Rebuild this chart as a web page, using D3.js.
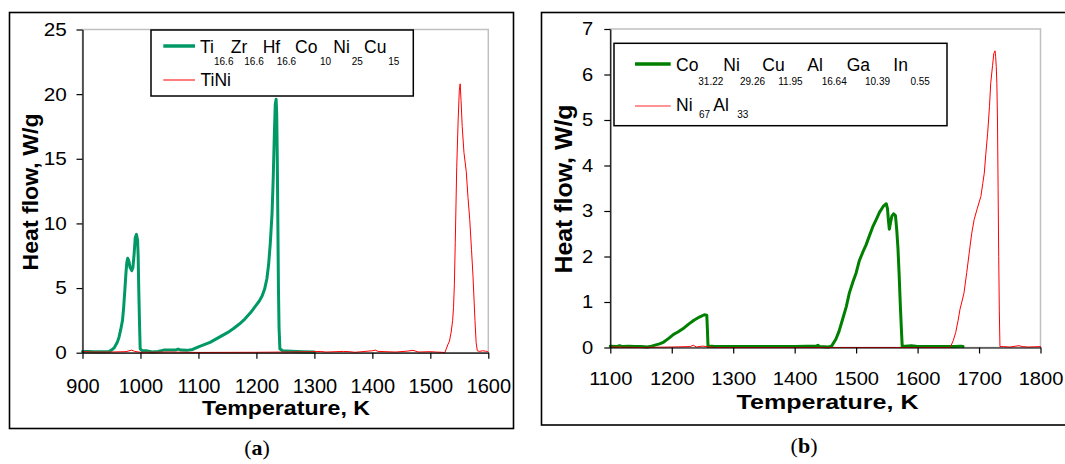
<!DOCTYPE html>
<html><head><meta charset="utf-8">
<script src="https://cdn.jsdelivr.net/npm/d3@7"></script>
<style>
html,body{margin:0;padding:0;background:#fff;}
svg{display:block;}
text{font-family:"Liberation Sans",Arial,sans-serif;fill:#000;}
</style>
</head><body>
<svg id="c" width="1065" height="464"></svg>
<script>
// ---------- Panel (a) data ----------
const tickA_x = [900,1000,1100,1200,1300,1400,1500,1600];
const tickA_y = [0,5,10,15,20,25];
const legendA_elements = ["Ti","Zr","Hf","Co","Ni","Cu"];
const legendA_subs = ["16.6","16.6","16.6","10","25","15"];
const legendA_second = "TiNi";

const tempA_green = [900,910,920,930,940,946,950,955,960,963,966,969,971,973,975,976.5,978,980,982,985,987,989,991,993,995,996,997,998.5,999.5,1003,1010,1020,1030,1040,1050,1060,1065,1070,1080,1090,1100,1110,1120,1130,1140,1150,1160,1170,1180,1190,1200,1205,1210,1214,1218,1221,1224,1227,1229,1231,1232.5,1234,1235,1236,1237,1238,1239,1240.5,1245,1260,1280,1300];
const flowA_green = [0.1,0.1,0.08,0.08,0.08,0.1,0.2,0.4,0.8,1.2,1.8,2.5,3.5,4.8,6.2,7.0,7.3,7.1,6.6,6.35,6.6,7.6,8.9,9.15,8.7,7.5,5,2,0.3,0.15,0.15,0.05,0.1,0.2,0.2,0.2,0.28,0.2,0.18,0.25,0.45,0.62,0.8,1.05,1.3,1.55,1.85,2.2,2.6,3.1,3.7,4.0,4.4,4.9,5.7,6.8,8.5,10.8,13.5,17,19.2,19.6,18.5,15,10,5,2,0.3,0.15,0.12,0.08,0.05];

const tempA_red = [900,920,950,975,985,990,1000,1050,1100,1200,1250,1300,1310,1320,1350,1360,1370,1400,1405,1410,1440,1460,1470,1480,1500,1510,1520,1525,1530,1533,1536,1538.5,1540,1541.5,1543,1545.5,1548,1550,1551.5,1553,1555,1558,1562,1565,1568,1571,1573.5,1575.5,1577,1579,1581,1585,1590,1595,1598,1600];
const flowA_red = [0.08,0.05,0.05,0.08,0.2,0.1,0.03,0.05,0.02,0.03,0.05,0.08,0.1,0.05,0.1,0.08,0.03,0.15,0.2,0.1,0.05,0.12,0.18,0.05,0.08,0.05,0.03,0,0.6,0.9,1.6,2.5,3.5,5.3,8.5,14.3,18,20.3,20.8,19.5,17.5,15.5,14.0,12,10.3,8,6,4,2.5,0.8,0.15,0.1,0.15,0.12,0.1,0.05];

// ---------- Panel (b) data ----------
const tickB_x = [1100,1200,1300,1400,1500,1600,1700,1800];
const tickB_y = [0,1,2,3,4,5,6,7];
const legendB_elements = ["Co","Ni","Cu","Al","Ga","In"];
const legendB_subs = ["31.22","29.26","11.95","16.64","10.39","0.55"];
const legendB_second = ["Ni","67","Al","33"];

const tempB_green = [1100,1110,1115,1120,1130,1140,1150,1160,1165,1170,1180,1187,1195,1203,1210,1220,1228,1236,1245,1253,1257,1258,1259,1265,1270,1300,1350,1400,1420,1435,1438,1440,1455,1460,1467,1472,1478,1484,1489,1495,1500,1505,1511,1516,1522,1527,1533,1538,1544,1549,1551,1552.5,1554,1556,1558,1561,1564,1566,1568,1570,1572,1574,1575,1580,1590,1600,1620,1640,1660,1670,1674];
const flowB_green = [0.03,0.02,0.04,0.02,0.03,0.02,0.02,0.01,0.02,0.04,0.08,0.12,0.2,0.29,0.34,0.43,0.52,0.6,0.67,0.72,0.71,0.4,0.02,0.03,0.02,0.02,0.02,0.02,0.03,0.03,0.05,0.02,0.01,0.03,0.18,0.35,0.62,0.9,1.2,1.45,1.64,1.9,2.1,2.25,2.47,2.65,2.82,2.97,3.1,3.16,3.05,2.8,2.6,2.75,2.88,2.94,2.9,2.6,2.2,1.6,0.9,0.3,0.02,0.03,0.04,0.02,0.02,0.02,0.02,0.03,0.02];

const tempB_red = [1100,1150,1200,1230,1235,1240,1250,1270,1400,1500,1600,1653,1658,1662,1666,1669,1672,1675.5,1680,1684,1688,1692,1697,1703,1706,1708.5,1711,1714,1717,1719,1722,1724,1726,1727,1728,1729,1730,1731,1732,1733,1734,1740,1750,1765,1770,1780,1800];
const flowB_red = [0.01,0.0,0.01,0.02,0.05,0.01,0.03,0.0,0.0,0.0,0.0,0,0.15,0.33,0.6,0.84,1.0,1.2,1.65,2.08,2.5,2.81,3.05,3.32,3.6,3.83,4.25,4.71,5.3,5.81,6.2,6.46,6.52,6.4,6.17,5.8,5.0,3.5,2.0,0.8,0.02,0.02,0.01,0.04,0.02,0.01,0.02];

const svg = d3.select("#c");
const FONT = '"Liberation Sans",Arial,sans-serif';

function drawPanel(o) {
  const g = svg.append("g");
  g.append("rect").attr("x", o.frame[0]).attr("y", o.frame[1])
    .attr("width", o.frame[2]).attr("height", o.frame[3])
    .attr("fill", "none").attr("stroke", "#000").attr("stroke-width", 1.6);

  const x = d3.scaleLinear().domain(o.xDomain).range([o.left, o.right]);
  const y = d3.scaleLinear().domain(o.yDomain).range([o.bottom, o.top]);

  g.append("rect").attr("x", o.left).attr("y", o.top)
    .attr("width", o.right - o.left).attr("height", o.bottom - o.top)
    .attr("fill", "none").attr("stroke", "#c0c0c0").attr("stroke-width", 1.5);

  const line = d3.line().x(d => x(d[0])).y(d => y(d[1]));
  o.series.forEach(s => {
    g.append("path").datum(d3.zip(s.t, s.v)).attr("d", line)
      .attr("fill", "none").attr("stroke", s.color).attr("stroke-width", s.width)
      .attr("stroke-linejoin", "round").attr("stroke-linecap", "round");
  });

  const xa = g.append("g").attr("transform", `translate(0,${o.bottom})`)
    .call(d3.axisBottom(x).tickValues(o.xTicks).tickFormat(d3.format("d"))
      .tickSize(6).tickSizeOuter(0).tickPadding(o.xPad));
  xa.selectAll("text").style("font-size", o.xFont + "px").style("font-family", FONT)
    .attr("fill", "#000")
    .attr("transform", `scale(${o.xScale},1)`);
  const ya = g.append("g").attr("transform", `translate(${o.left},0)`)
    .call(d3.axisLeft(y).tickValues(o.yTicks).tickFormat(d3.format("d"))
      .tickSize(6).tickSizeOuter(0).tickPadding(o.yPad));
  ya.selectAll("text").style("font-size", o.yFont + "px").style("font-family", FONT)
    .attr("fill", "#000")
    .attr("transform", `scale(${o.yScale},1)`);
  g.selectAll(".domain, .tick line").attr("stroke", "#000").attr("stroke-width", 1.2);

  g.append("text").attr("x", o.xTitle[0]).attr("y", o.xTitle[1])
    .attr("text-anchor", "middle").style("font-weight", "bold")
    .style("font-size", o.xTitle[2] + "px")
    .attr("textLength", o.xTitle[3]).attr("lengthAdjust", "spacingAndGlyphs")
    .text("Temperature, K");
  g.append("text")
    .attr("transform", `translate(${o.yTitle[0]},${o.yTitle[1]}) rotate(-90)`)
    .attr("text-anchor", "middle").style("font-weight", "bold")
    .style("font-size", o.yTitle[2] + "px")
    .attr("textLength", o.yTitle[3]).attr("lengthAdjust", "spacingAndGlyphs")
    .text("Heat flow, W/g");

  const cap = svg.append("text").attr("x", o.caption[0]).attr("y", o.caption[1])
    .attr("text-anchor", "middle")
    .style("font-family", '"Liberation Serif","DejaVu Serif",serif').style("font-size", "22px");
  cap.append("tspan").text("(");
  cap.append("tspan").style("font-weight", "bold").text(o.caption[2]);
  cap.append("tspan").text(")");
  return g;
}

const greenA = "#009966", greenB = "#008000", red = "#ff0000";

drawPanel({
  frame: [9.5, 12.5, 504, 416],
  left: 82.5, right: 488.3, top: 29.5, bottom: 352.7,
  xDomain: [900, 1600], yDomain: [0, 25],
  xTicks: tickA_x, yTicks: tickA_y,
  xFont: 20, xScale: 1, xPad: 20,
  yFont: 18.5, yScale: 1.12, yPad: 8,
  xTitle: [286, 415, 21, 168],
  yTitle: [38, 192, 22, 157],
  caption: [257, 455, "a"],
  series: [
    {t: tempA_green, v: flowA_green, color: greenA, width: 3},
    {t: tempA_red, v: flowA_red, color: red, width: 1}
  ]
});

drawPanel({
  frame: [541.5, 12.5, 540, 412.5],
  left: 610.3, right: 1040.5, top: 29, bottom: 347.5,
  xDomain: [1100, 1800], yDomain: [0, 7],
  xTicks: tickB_x, yTicks: tickB_y,
  xFont: 17.5, xScale: 1.15, xPad: 19,
  yFont: 17.5, yScale: 1.15, yPad: 8.8,
  xTitle: [827.5, 408.5, 21, 182],
  yTitle: [572, 189, 23, 169],
  caption: [804, 453, "b"],
  series: [
    {t: tempB_green, v: flowB_green, color: greenB, width: 3},
    {t: tempB_red, v: flowB_red, color: red, width: 1}
  ]
});

function legend(o) {
  const g = svg.append("g");
  g.append("rect").attr("x", o.box[0]).attr("y", o.box[1]).attr("width", o.box[2]).attr("height", o.box[3])
    .attr("fill", "#fff").attr("stroke", "#000").attr("stroke-width", 1.5);
  g.append("line").attr("x1", o.sample[0]).attr("x2", o.sample[1]).attr("y1", o.row1).attr("y2", o.row1)
    .attr("stroke", o.c1).attr("stroke-width", 3.5);
  g.append("line").attr("x1", o.sample[0]).attr("x2", o.sample[1]).attr("y1", o.row2).attr("y2", o.row2)
    .attr("stroke", o.c2).attr("stroke-width", 1.2).attr("opacity", 0.85);
  o.elements.forEach((e, i) => {
    g.append("text").attr("x", o.textX + o.elOff[i]).attr("y", o.base1)
      .style("font-size", "17.5px").text(e);
    g.append("text").attr("x", o.textX + o.subOff[i]).attr("y", o.sub1)
      .style("font-size", "10px").text(o.subs[i]);
  });
  return g;
}

const legA = legend({
  box: [151, 30, 262.3, 66], sample: [163.3, 195], row1: 46, row2: 80, c1: greenA, c2: red,
  textX: 200, base1: 53.3, sub1: 65,
  elements: legendA_elements, subs: legendA_subs,
  elOff: [0, 30.7, 62.7, 95, 133.3, 164], subOff: [14, 44.3, 76.7, 120, 151.7, 188.3]
});
legA.append("text").attr("x", 200.5).attr("y", 85.5).style("font-size", "17.5px").text(legendA_second);

const legB = legend({
  box: [614, 43.3, 333, 82.4], sample: [635, 670.7], row1: 64, row2: 106, c1: greenB, c2: red,
  textX: 676, base1: 70.7, sub1: 85.3,
  elements: legendB_elements, subs: legendB_subs,
  elOff: [0, 47.3, 86.3, 131.3, 170.7, 217.3], subOff: [22.3, 64, 102.3, 145.7, 189, 234.4]
});
const secB = [[676, 111, 17.5], [699, 118.3, 10], [713.3, 111, 17.5], [737.3, 118.3, 10]];
legendB_second.forEach((t, i) => {
  legB.append("text").attr("x", secB[i][0]).attr("y", secB[i][1]).style("font-size", secB[i][2] + "px").text(t);
});
</script>
</body></html>
